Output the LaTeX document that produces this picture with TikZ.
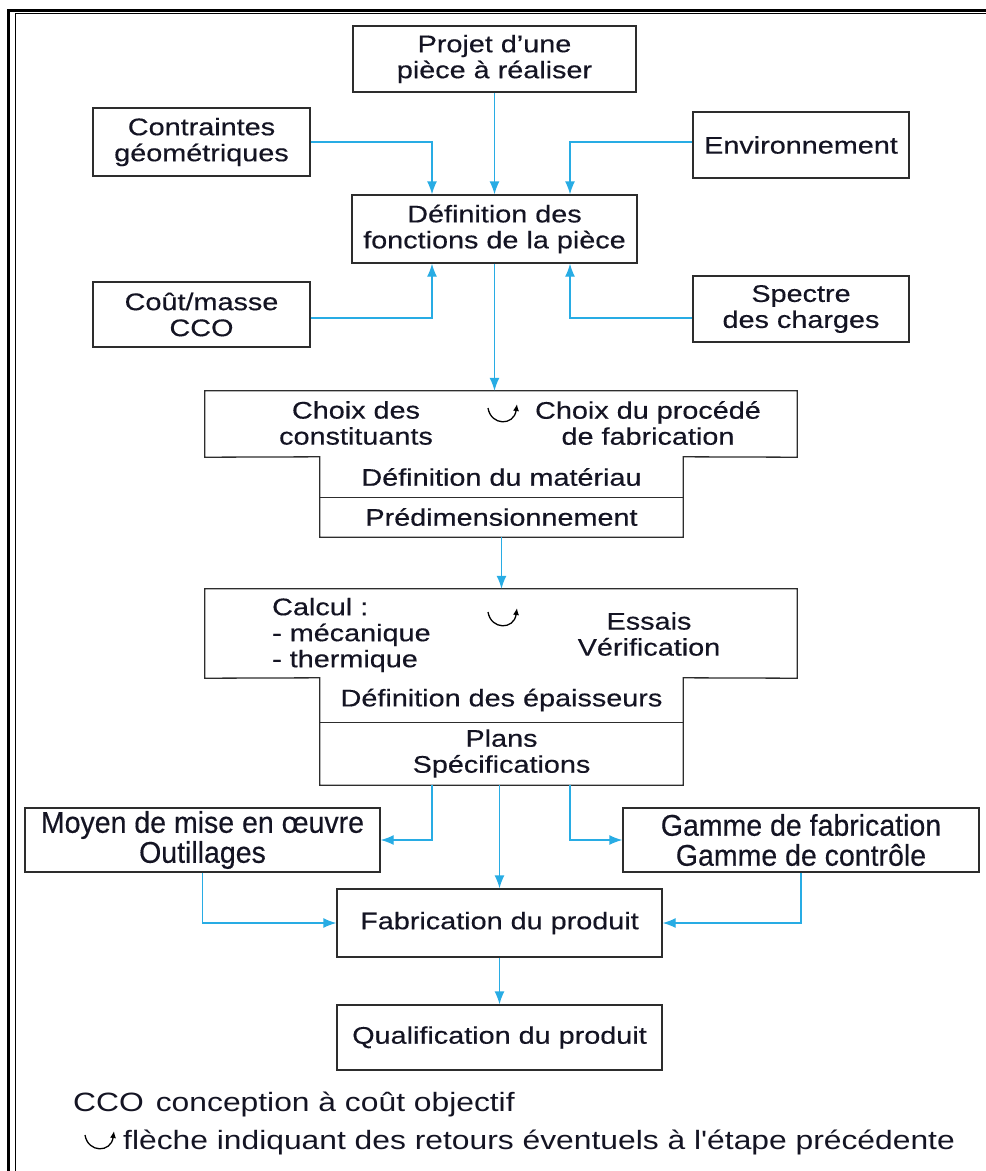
\documentclass[tikz,border=0pt]{standalone}
\usepackage{fontspec}
\setmainfont{Liberation Sans}[FakeStretch=1.2,FakeBold=0.4]
\newfontfamily\condfont{Liberation Sans}[FakeStretch=0.95,FakeBold=0.4]
\newfontfamily\legfont{Liberation Sans}[FakeStretch=1.2]
\usetikzlibrary{arrows.meta}
\definecolor{flow}{RGB}{40,172,228}
\definecolor{edge}{RGB}{45,45,45}
\definecolor{ink}{RGB}{20,20,35}
\begin{document}
\begin{tikzpicture}[x=1pt,y=-1pt,
  box/.style={draw=edge, line width=1.3pt, align=center, inner sep=0pt, text=ink,
    font=\fontsize{24}{26}\selectfont},
  cbox/.style={box, font=\condfont\fontsize{30}{30}\selectfont},
  part/.style={inner sep=0pt, align=center, text=ink, font=\fontsize{24}{26}\selectfont},
  txt/.style={inner sep=0pt, align=center, text=ink, font=\fontsize{24}{26}\selectfont},
  flowarrow/.style={draw=flow, line width=1.3pt, -{Latex[length=13pt,width=10pt]}},
  loop/.style={line width=1.3pt, -{Latex[length=7pt,width=6pt]}},
  outline/.style={draw=edge, line width=1.3pt},
  legend/.style={inner sep=0pt, anchor=base west, text=ink, font=\legfont\fontsize{26.5}{28}\selectfont},
]
\useasboundingbox (0,0) rectangle (986,1171);
% frame
\draw[line width=2.6pt] (8.5,1200) -- (8.5,10.5) -- (1000,10.5);
\draw[line width=1.3pt] (15.5,1200) -- (15.5,13.8) -- (1000,13.8);

% boxes
\node[box, minimum width=283, minimum height=66] (projet) at (494.5,59) {Projet d'une\\pièce à réaliser};
\node[box, minimum width=217, minimum height=68] (contr) at (201.5,142) {Contraintes\\géométriques};
\node[box, minimum width=216, minimum height=66] (env) at (801,145) {Environnement};
\node[box, minimum width=285, minimum height=68] (def) at (494.5,229) {Définition des\\fonctions de la pièce};
\node[box, minimum width=217, minimum height=65] (cout) at (201.5,314.5) {Coût/masse\\CCO};
\node[box, minimum width=216, minimum height=66] (spectre) at (801,309) {Spectre\\des charges};

% T-shape 1
\node[part, minimum width=592, minimum height=66] (t1top) at (501,424) {};
\node[part, minimum width=363, minimum height=40] (t1mat) at (501.5,477) {Définition du matériau};
\node[part, minimum width=363, minimum height=40] (t1pre) at (501.5,517) {Prédimensionnement};
\draw[outline] (t1top.north west) -- (t1top.north east) -- (t1top.south east) -- (t1mat.north east)
  -- (t1pre.south east) -- (t1pre.south west) -- (t1mat.north west) -- (t1top.south west) -- cycle;
\draw[outline] (t1mat.south west) -- (t1mat.south east);
\node[txt] (choixc) at (356,423) {Choix des\\constituants};
\node[txt] (choixp) at (648,423) {Choix du procédé\\de fabrication};
\coordinate (l1) at (503,414);
\draw[loop] ([xshift=-15pt,yshift=6pt]l1) .. controls ([xshift=-12pt,yshift=-12pt]l1) and ([xshift=11pt,yshift=-12pt]l1) .. ([xshift=14pt,yshift=10pt]l1);

% T-shape 2
\node[part, minimum width=592, minimum height=89] (t2top) at (501,633.5) {};
\node[part, minimum width=363, minimum height=44] (t2ep) at (501.5,700) {Définition des épaisseurs};
\node[part, minimum width=363, minimum height=63] (t2pl) at (501.5,753.5) {Plans\\Spécifications};
\draw[outline] (t2top.north west) -- (t2top.north east) -- (t2top.south east) -- (t2ep.north east)
  -- (t2pl.south east) -- (t2pl.south west) -- (t2ep.north west) -- (t2top.south west) -- cycle;
\draw[outline] (t2ep.south west) -- (t2ep.south east);
\node[txt, align=left, anchor=west] (calc) at (272,635) {Calcul :\\- mécanique\\- thermique};
\node[txt] (essais) at (649,634) {Essais\\Vérification};
\coordinate (l2) at (503,618);
\draw[loop] ([xshift=-15pt,yshift=6pt]l2) .. controls ([xshift=-12pt,yshift=-12pt]l2) and ([xshift=11pt,yshift=-12pt]l2) .. ([xshift=14pt,yshift=10pt]l2);

% lower boxes
\node[cbox, minimum width=355, minimum height=64] (moyen) at (202.5,840) {Moyen de mise en œuvre\\Outillages};
\node[cbox, minimum width=356, minimum height=64] (gamme) at (801,840) {Gamme de fabrication\\Gamme de contrôle};
\node[box, minimum width=325, minimum height=68] (fab) at (499.5,923) {Fabrication du produit};
\node[box, minimum width=325, minimum height=65] (qual) at (499.5,1037.5) {Qualification du produit};

% connectors
\draw[flowarrow] (projet) -- (def);
\draw[flowarrow] (contr.east) -| ([xshift=-62.5pt]def.north);
\draw[flowarrow] ([yshift=3pt]env.west) -| ([xshift=75.5pt]def.north);
\draw[flowarrow] ([yshift=-3.5pt]cout.east) -| ([xshift=-62.5pt]def.south);
\draw[flowarrow] ([yshift=-9pt]spectre.west) -| ([xshift=75.5pt]def.south);
\draw[flowarrow] (def.south) -- (def.south |- t1top.north);
\draw[flowarrow] (t1pre.south) -- (t1pre.south |- t2top.north);
\draw[flowarrow] ([xshift=-69.5pt]t2pl.south) |- (moyen.east);
\draw[flowarrow] ([xshift=68.5pt]t2pl.south) |- (gamme.west);
\draw[flowarrow] (t2pl.south -| fab.north) -- (fab.north);
\draw[flowarrow] (moyen.south) |- (fab.west);
\draw[flowarrow] (gamme.south) |- (fab.east);
\draw[flowarrow] (fab) -- (qual);

% legend
\node[legend] (leg1) at (73,1111) {CCO\hspace{12pt}conception à coût objectif};
\coordinate (l3) at (100,1141);
\draw[loop] ([xshift=-15pt,yshift=6pt]l3) .. controls ([xshift=-12pt,yshift=-12pt]l3) and ([xshift=11pt,yshift=-12pt]l3) .. ([xshift=14pt,yshift=10pt]l3);
\node[legend] (leg2) at (123,1149) {flèche indiquant des retours éventuels à l'étape précédente};
\end{tikzpicture}
\end{document}
